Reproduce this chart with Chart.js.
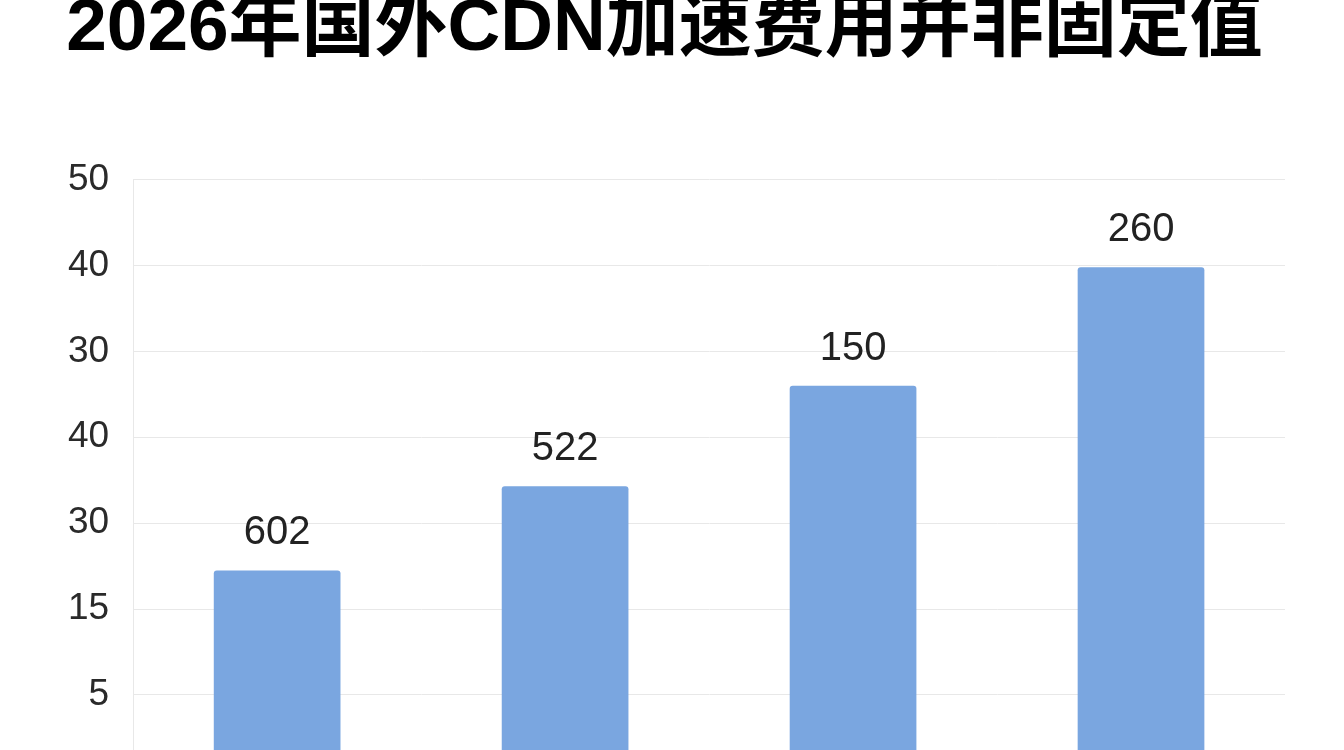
<!DOCTYPE html>
<html>
<head>
<meta charset="utf-8">
<script src="https://cdn.jsdelivr.net/npm/chart.js@4/dist/chart.umd.min.js"></script>
<style>
  html, body { margin: 0; padding: 0; background: #fff; overflow: hidden; }
</style>
</head>
<body>
<canvas id="myChart" width="1344" height="827"></canvas>
<script>
// data
const categories = ['1', '2', '3', '4'];
const barHeights = [24.5, 34.3, 46.0, 59.8];
const barLabels = ['602', '522', '150', '260'];
// y tick labels from bottom (0) to top (70), as printed in the picture
const tickLabels = ['', '5', '15', '30', '40', '30', '40', '50'];

const barLabelPlugin = {
  id: 'barLabels',
  afterDatasetsDraw(chart) {
    const ctx = chart.ctx;
    const meta = chart.getDatasetMeta(0);
    ctx.save();
    ctx.font = '40px "Liberation Sans", Arial, sans-serif';
    ctx.fillStyle = '#222';
    ctx.textAlign = 'center';
    ctx.textBaseline = 'middle';
    meta.data.forEach((bar, i) => {
      ctx.fillText(barLabels[i], bar.x, bar.y - 37);
    });
    ctx.restore();
  }
};

const ctx = document.getElementById('myChart').getContext('2d');
const myChart = new Chart(ctx, {
  type: 'bar',
  data: {
    labels: categories,
    datasets: [{
      data: barHeights,
      backgroundColor: '#7aa6e0',
      borderRadius: 3,
      borderSkipped: 'bottom',
      categoryPercentage: 1,
      barPercentage: 0.44
    }]
  },
  plugins: [barLabelPlugin],
  options: {
    responsive: false,
    animation: false,
    layout: { padding: { left: 44, right: 59, bottom: 20, top: 0 } },
    plugins: {
      legend: { display: false },
      tooltip: { enabled: false },
      title: {
        display: true,
        text: '2026年国外CDN加速费用并非固定值',
        color: '#000',
        font: { family: '"Liberation Sans", "Noto Sans CJK SC", sans-serif', size: 73, weight: 'bold' },
        padding: { top: -14, bottom: 106 }
      }
    },
    scales: {
      x: { display: false },
      y: {
        min: 0,
        max: 70,
        ticks: {
          stepSize: 10,
          color: '#2a2a2a',
          padding: 24,
          font: { family: '"Liberation Sans", Arial, sans-serif', size: 37 },
          callback: (v) => tickLabels[Math.round(v / 10)]
        },
        grid: { color: '#e8e8e8', drawTicks: false },
        border: { color: '#e8e8e8' }
      }
    }
  }
});
</script>
</body>
</html>
